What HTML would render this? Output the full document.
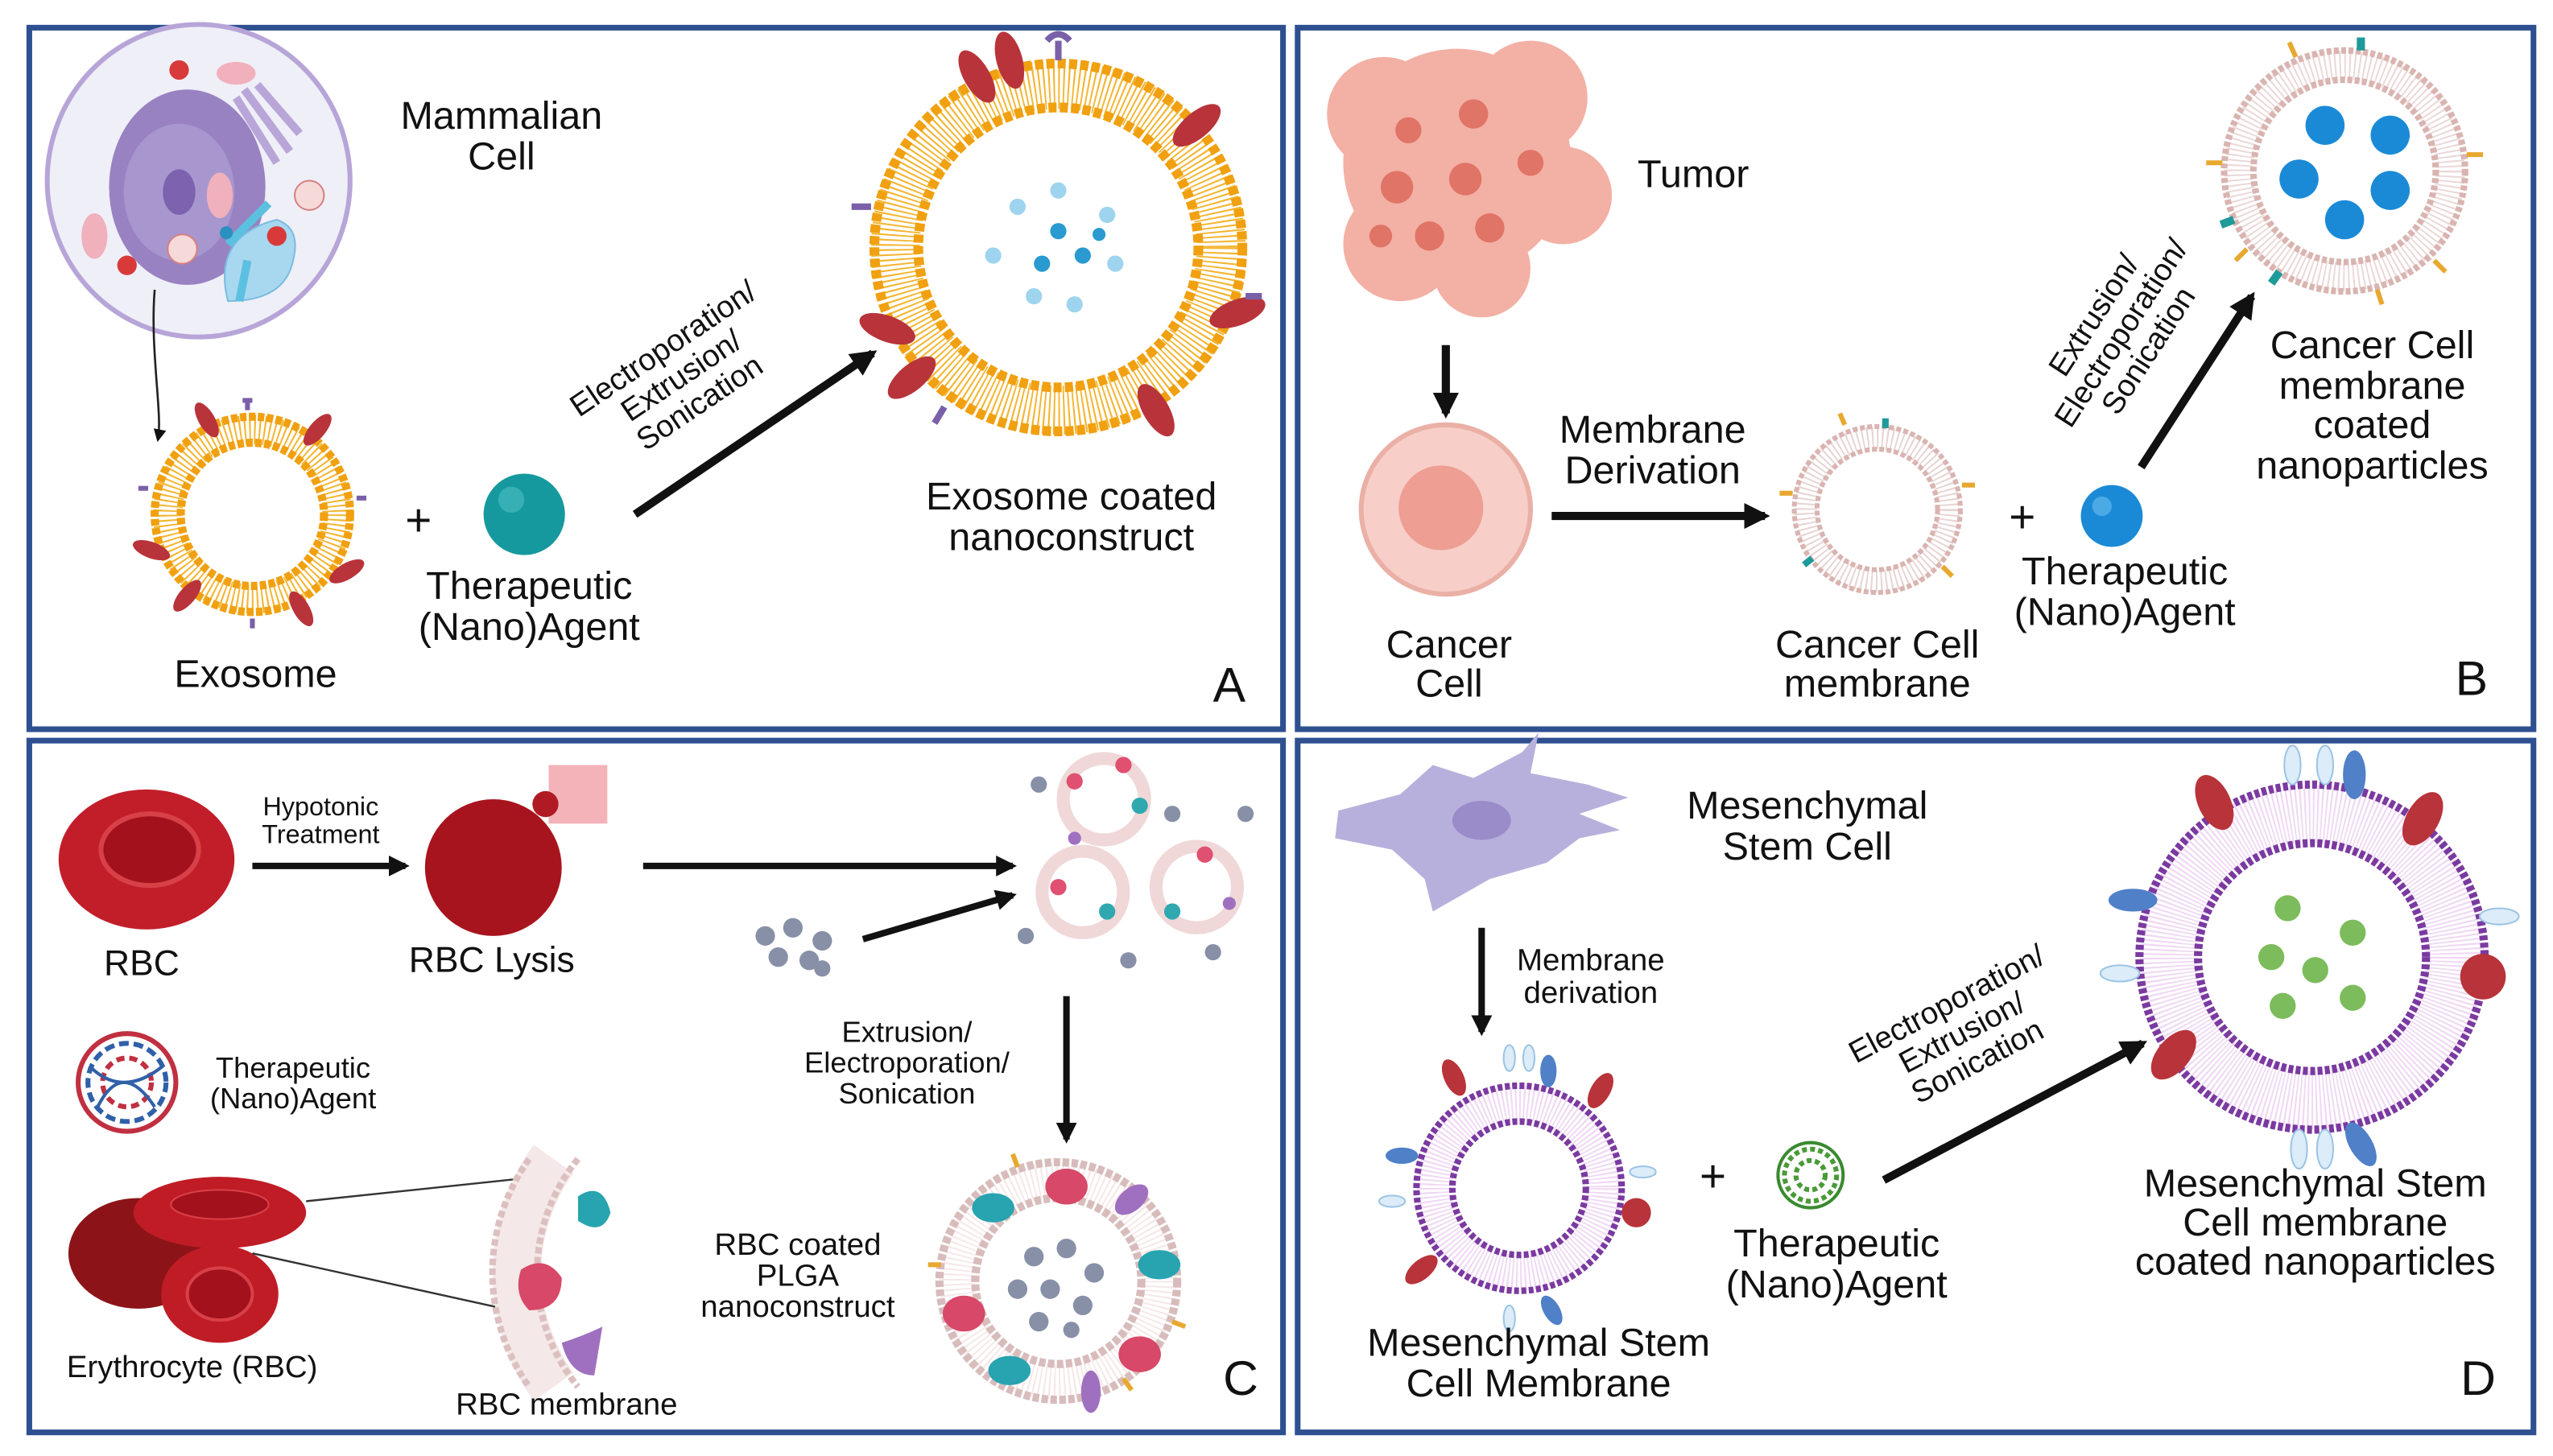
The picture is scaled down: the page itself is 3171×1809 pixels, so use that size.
<!DOCTYPE html>
<html><head><meta charset="utf-8"><style>
html,body{margin:0;padding:0;background:#fff;}
svg{display:block;}
text{font-family:"Liberation Sans Narrow","Liberation Sans",sans-serif;fill:#111;text-anchor:middle;}
</style></head><body>
<svg width="3171" height="1809" viewBox="0 0 1568 894.5" xmlns="http://www.w3.org/2000/svg">
<defs>
<marker id="ah" viewBox="0 0 10 10" refX="8" refY="5" markerWidth="3.2" markerHeight="3.2" orient="auto"><path d="M0,0 L10,5 L0,10 z" fill="#111"/></marker>
<marker id="ah2" viewBox="0 0 10 10" refX="8" refY="5" markerWidth="6" markerHeight="6" orient="auto"><path d="M0,0 L10,5 L0,10 z" fill="#111"/></marker>
</defs>
<rect width="1568" height="894.5" fill="#fff"/>
<g fill="none" stroke="#2e5090" stroke-width="3.5">
<rect x="18" y="17" width="770" height="431"/>
<rect x="797" y="17" width="759" height="431"/>
<rect x="18" y="455" width="770" height="425"/>
<rect x="797" y="455" width="759" height="425"/>
</g>

<!-- ================= PANEL A ================= -->
<ellipse cx="122" cy="111" rx="93" ry="96" fill="#efeff8" stroke="#b7a5d8" stroke-width="3"/>
<ellipse cx="115" cy="115" rx="48" ry="60" fill="#8a6fb8" opacity="0.85"/>
<ellipse cx="110" cy="118" rx="34" ry="42" fill="#a896cf"/>
<ellipse cx="110" cy="118" rx="10" ry="14" fill="#7d62b0"/>
<path d="M145,60 l25,40 M150,55 l28,38 M158,52 l26,30" stroke="#b9a6d8" stroke-width="5"/>
<path d="M140,185 q-10,-40 30,-50 q15,5 10,25 q-5,25 -40,25z" fill="#a8d8f0" stroke="#7bbbe0"/>
<ellipse cx="145" cy="45" rx="12" ry="7" fill="#f0b0bc"/>
<ellipse cx="135" cy="120" rx="8" ry="14" fill="#f0b0bc"/>
<ellipse cx="58" cy="145" rx="8" ry="14" fill="#f0b0bc"/>
<circle cx="110" cy="43" r="6" fill="#d83a3a"/><circle cx="170" cy="145" r="6" fill="#d83a3a"/><circle cx="78" cy="163" r="6" fill="#d83a3a"/>
<circle cx="190" cy="120" r="9" fill="#f6dada" stroke="#d88080"/><circle cx="112" cy="153" r="9" fill="#f6dada" stroke="#d88080"/>
<path d="M140,150 l25,-25 M152,160 l-5,25" stroke="#5cc0e0" stroke-width="5"/>
<circle cx="139" cy="143" r="4" fill="#2a90c0"/>
<path d="M95,178 C92,215 100,255 97,270" fill="none" stroke="#222" stroke-width="1.3" marker-end="url(#ah2)"/>
<text x="308" y="79" font-size="24">Mammalian</text>
<text x="308" y="104" font-size="24">Cell</text>

<g transform="translate(155,316)">
<circle r="52" fill="none" stroke="#f4b530" stroke-width="18" stroke-dasharray="1 2"/>
<circle r="60" fill="none" stroke="#f0a010" stroke-width="5" stroke-dasharray="4 1.5"/>
<circle r="44" fill="none" stroke="#f0a010" stroke-width="5" stroke-dasharray="4 1.5"/>
<g fill="#b8343a">
<ellipse cx="-28" cy="-58" rx="5" ry="12" transform="rotate(-30 -28 -58)"/><ellipse cx="40" cy="-52" rx="5" ry="12" transform="rotate(40 40 -52)"/>
<ellipse cx="-62" cy="22" rx="5" ry="12" transform="rotate(-70 -62 22)"/><ellipse cx="58" cy="35" rx="5" ry="12" transform="rotate(60 58 35)"/>
<ellipse cx="-40" cy="50" rx="5" ry="12" transform="rotate(40 -40 50)"/><ellipse cx="30" cy="58" rx="5" ry="12" transform="rotate(-30 30 58)"/>
</g>
<g stroke="#7a60a8" stroke-width="3" fill="none"><path d="M-3,-64 v-6 M-6,-70 h6"/><path d="M-64,-16 h-6"/><path d="M0,64 v6"/><path d="M64,-10 h6"/></g>
</g>
<text x="257" y="329" font-size="28" fill="#555">+</text>
<circle cx="322" cy="316" r="25" fill="#16999e"/>
<circle cx="314" cy="307" r="8" fill="#4cc0c4" opacity="0.6"/>
<text x="325" y="368" font-size="24">Therapeutic</text>
<text x="325" y="393" font-size="24">(Nano)Agent</text>
<text x="157" y="422" font-size="24">Exosome</text>
<line x1="390" y1="316" x2="536" y2="217" stroke="#111" stroke-width="5" marker-end="url(#ah)"/>
<g transform="translate(422,236) rotate(-34)" font-size="19">
<text x="0" y="-20">Electroporation/</text><text x="0" y="0">Extrusion/</text><text x="0" y="20">Sonication</text>
</g>
<g transform="translate(650,152)">
<circle r="100" fill="none" stroke="#f4b530" stroke-width="30" stroke-dasharray="1 2"/>
<circle r="113" fill="none" stroke="#f0a010" stroke-width="6" stroke-dasharray="5 2"/>
<circle r="86" fill="none" stroke="#f0a010" stroke-width="6" stroke-dasharray="5 2"/>
<g fill="#b8343a">
<ellipse cx="-50" cy="-105" rx="8" ry="18" transform="rotate(-30 -50 -105)"/><ellipse cx="85" cy="-75" rx="8" ry="18" transform="rotate(50 85 -75)"/>
<ellipse cx="-105" cy="50" rx="8" ry="18" transform="rotate(-70 -105 50)"/><ellipse cx="60" cy="100" rx="8" ry="18" transform="rotate(-30 60 100)"/>
<ellipse cx="-90" cy="80" rx="8" ry="18" transform="rotate(50 -90 80)"/><ellipse cx="110" cy="40" rx="8" ry="18" transform="rotate(70 110 40)"/>
<ellipse cx="-30" cy="-115" rx="8" ry="18" transform="rotate(-15 -30 -115)"/>
</g>
<g stroke="#7a60a8" stroke-width="4" fill="none"><path d="M0,-115 v-12 M-7,-127 q7,-8 14,0"/><path d="M-115,-25 h-12"/><path d="M115,30 h10"/><path d="M-70,98 l-6,10"/></g>
<g fill="#9fd4ee"><circle cx="-25" cy="-25" r="5"/><circle cx="0" cy="-35" r="5"/><circle cx="30" cy="-20" r="5"/><circle cx="-40" cy="5" r="5"/><circle cx="35" cy="10" r="5"/><circle cx="-15" cy="30" r="5"/><circle cx="10" cy="35" r="5"/></g>
<g fill="#2a9ad0"><circle cx="0" cy="-10" r="5"/><circle cx="-10" cy="10" r="5"/><circle cx="15" cy="5" r="5"/><circle cx="25" cy="-8" r="4"/></g>
</g>
<text x="658" y="313" font-size="24">Exosome coated</text>
<text x="658" y="338" font-size="24">nanoconstruct</text>
<text x="755" y="431" font-size="30">A</text>

<!-- ================= PANEL B ================= -->
<g fill="#f2a89c" opacity="0.9">
<circle cx="895" cy="100" r="70"/><circle cx="850" cy="70" r="35"/><circle cx="940" cy="60" r="35"/><circle cx="960" cy="120" r="30"/><circle cx="860" cy="150" r="35"/><circle cx="910" cy="165" r="30"/>
</g>
<g fill="#e07466"><circle cx="858" cy="115" r="10"/><circle cx="900" cy="110" r="10"/><circle cx="878" cy="145" r="9"/><circle cx="915" cy="140" r="9"/><circle cx="905" cy="70" r="9"/><circle cx="865" cy="80" r="8"/><circle cx="940" cy="100" r="8"/><circle cx="848" cy="145" r="7"/></g>
<text x="1040" y="115" font-size="24">Tumor</text>
<line x1="888" y1="212" x2="888" y2="254" stroke="#111" stroke-width="5" marker-end="url(#ah)"/>
<circle cx="888" cy="313" r="52" fill="#f7cfc8" stroke="#eab0a6" stroke-width="3"/>
<circle cx="885" cy="312" r="26" fill="#ee9e92"/>
<text x="890" y="404" font-size="24">Cancer</text>
<text x="890" y="428" font-size="24">Cell</text>
<text x="1015" y="272" font-size="24">Membrane</text>
<text x="1015" y="297" font-size="24">Derivation</text>
<line x1="953" y1="317" x2="1084" y2="317" stroke="#111" stroke-width="5" marker-end="url(#ah)"/>
<g transform="translate(1153,313)">
<circle r="44" fill="none" stroke="#e8d4d4" stroke-width="14" stroke-dasharray="1 2"/>
<circle r="51" fill="none" stroke="#d9b4b0" stroke-width="3" stroke-dasharray="3 1.5"/>
<circle r="37" fill="none" stroke="#d9b4b0" stroke-width="3" stroke-dasharray="3 1.5"/>
<g stroke="#e8a830" stroke-width="3"><path d="M-52,-10 h-8"/><path d="M52,-15 h8"/><path d="M40,35 l6,6"/><path d="M-20,-52 l-3,-7"/></g>
<g stroke="#1e9a9a" stroke-width="4"><path d="M5,-50 v-6"/><path d="M-40,30 l-5,4"/></g>
</g>
<text x="1153" y="404" font-size="24">Cancer Cell</text>
<text x="1153" y="428" font-size="24">membrane</text>
<text x="1242" y="327" font-size="28" fill="#555">+</text>
<circle cx="1297" cy="317" r="19" fill="#1a8ad6"/><circle cx="1291" cy="311" r="6" fill="#6cc0f0" opacity="0.6"/>
<text x="1305" y="359" font-size="24">Therapeutic</text>
<text x="1305" y="384" font-size="24">(Nano)Agent</text>
<line x1="1315" y1="287" x2="1383" y2="182" stroke="#111" stroke-width="5" marker-end="url(#ah)"/>
<g transform="translate(1308,208) rotate(-57)" font-size="19">
<text x="0" y="-20">Extrusion/</text><text x="0" y="0">Electroporation/</text><text x="0" y="20">Sonication</text>
</g>
<g transform="translate(1440,105)">
<circle r="65" fill="none" stroke="#ecd8d8" stroke-width="18" stroke-dasharray="1 2"/>
<circle r="74" fill="none" stroke="#d9b4b0" stroke-width="4" stroke-dasharray="3 1.5"/>
<circle r="56" fill="none" stroke="#d9b4b0" stroke-width="4" stroke-dasharray="3 1.5"/>
<g stroke="#e8a830" stroke-width="3"><path d="M-75,-5 h-10"/><path d="M75,-10 h10"/><path d="M55,55 l7,7"/><path d="M-30,-70 l-4,-9"/><path d="M20,73 l3,9"/><path d="M-60,48 l-7,7"/></g>
<g stroke="#1e9a9a" stroke-width="5"><path d="M10,-74 v-8"/><path d="M-68,30 l-8,3"/><path d="M-40,62 l-5,7"/></g>
<g fill="#1a8ad6"><circle cx="-12" cy="-28" r="12"/><circle cx="28" cy="-22" r="12"/><circle cx="-28" cy="5" r="12"/><circle cx="28" cy="12" r="12"/><circle cx="0" cy="30" r="12"/></g>
</g>
<text x="1457" y="220" font-size="24">Cancer Cell</text>
<text x="1457" y="245" font-size="24">membrane</text>
<text x="1457" y="269" font-size="24">coated</text>
<text x="1457" y="294" font-size="24">nanoparticles</text>
<text x="1518" y="427" font-size="30">B</text>

<!-- ================= PANEL C ================= -->
<ellipse cx="90" cy="528" rx="54" ry="43" fill="#c21e2a"/>
<ellipse cx="92" cy="522" rx="30" ry="22" fill="#a3121c" stroke="#d84048" stroke-width="3"/>
<text x="197" y="501" font-size="16">Hypotonic</text>
<text x="197" y="518" font-size="16">Treatment</text>
<line x1="155" y1="532" x2="249" y2="532" stroke="#111" stroke-width="4" marker-end="url(#ah)"/>
<circle cx="303" cy="533" r="42" fill="#a8141e"/>
<rect x="337" y="470" width="36" height="36" fill="#f0a0a8" opacity="0.8"/>
<circle cx="335" cy="494" r="8" fill="#b01a24"/>
<text x="87" y="599" font-size="22">RBC</text>
<text x="302" y="597" font-size="22">RBC Lysis</text>
<line x1="395" y1="532" x2="622" y2="532" stroke="#111" stroke-width="4" marker-end="url(#ah)"/>
<g fill="#8890a8"><circle cx="470" cy="575" r="6"/><circle cx="487" cy="570" r="6"/><circle cx="505" cy="578" r="6"/><circle cx="478" cy="588" r="6"/><circle cx="497" cy="590" r="6"/><circle cx="505" cy="595" r="5"/></g>
<line x1="530" y1="577" x2="622" y2="550" stroke="#111" stroke-width="4" marker-end="url(#ah)"/>
<g fill="none" stroke-width="8">
<circle cx="678" cy="491" r="25" stroke="#f0d8d8"/><circle cx="665" cy="548" r="25" stroke="#f0d8d8"/><circle cx="735" cy="545" r="25" stroke="#f0d8d8"/>
</g>
<g fill="#e05070"><circle cx="660" cy="480" r="5"/><circle cx="690" cy="470" r="5"/><circle cx="650" cy="545" r="5"/><circle cx="740" cy="525" r="5"/></g>
<g fill="#30a8b0"><circle cx="700" cy="495" r="5"/><circle cx="680" cy="560" r="5"/><circle cx="720" cy="560" r="5"/></g>
<g fill="#a070c0"><circle cx="660" cy="515" r="4"/><circle cx="755" cy="555" r="4"/></g>
<g fill="#8890a8"><circle cx="638" cy="482" r="5"/><circle cx="720" cy="500" r="5"/><circle cx="765" cy="500" r="5"/><circle cx="745" cy="585" r="5"/><circle cx="693" cy="590" r="5"/><circle cx="630" cy="575" r="5"/></g>
<text x="557" y="640" font-size="18">Extrusion/</text>
<text x="557" y="659" font-size="18">Electroporation/</text>
<text x="557" y="678" font-size="18">Sonication</text>
<line x1="655" y1="612" x2="655" y2="700" stroke="#111" stroke-width="4" marker-end="url(#ah)"/>
<circle cx="78" cy="665" r="30" fill="#fff" stroke="#c03040" stroke-width="3"/>
<circle cx="78" cy="665" r="24" fill="none" stroke="#3060a8" stroke-width="3" stroke-dasharray="6 3"/>
<circle cx="78" cy="665" r="15" fill="none" stroke="#c03040" stroke-width="3" stroke-dasharray="5 3"/>
<path d="M55,655 q20,20 45,0 M60,680 q15,-30 35,0" stroke="#3060a8" stroke-width="2" fill="none"/>
<text x="180" y="662" font-size="18">Therapeutic</text>
<text x="180" y="681" font-size="18">(Nano)Agent</text>
<ellipse cx="85" cy="770" rx="43" ry="34" fill="#8c1418"/>
<ellipse cx="135" cy="745" rx="53" ry="22" fill="#c01c26"/>
<ellipse cx="135" cy="740" rx="30" ry="9" fill="#a3121c" stroke="#d84048"/>
<ellipse cx="135" cy="795" rx="36" ry="30" fill="#c01c26"/>
<ellipse cx="135" cy="795" rx="20" ry="16" fill="#a3121c" stroke="#d84048" stroke-width="2"/>
<path d="M188,738 L340,722 M155,770 L305,803" stroke="#333" stroke-width="1.2"/>
<path d="M340,712 A120,120 0 0,0 340,852" fill="none" stroke="#f5e8e8" stroke-width="30"/>
<path d="M325,712 A120,120 0 0,0 325,852" fill="none" stroke="#dcc0c0" stroke-width="4" stroke-dasharray="4 2"/>
<path d="M355,712 A110,110 0 0,0 355,852" fill="none" stroke="#dcc0c0" stroke-width="4" stroke-dasharray="4 2"/>
<path d="M355,735 q15,-10 20,10 q-5,15 -20,5z" fill="#28a4b0"/>
<path d="M320,780 q15,-10 25,5 q0,20 -20,20 q-10,-10 -5,-25z" fill="#d84868"/>
<path d="M345,825 q15,-5 25,-10 l-5,30 q-15,0 -20,-20z" fill="#a070c0"/>
<text x="118" y="846" font-size="19">Erythrocyte (RBC)</text>
<text x="348" y="869" font-size="19">RBC membrane</text>
<text x="490" y="771" font-size="19">RBC coated</text>
<text x="490" y="790" font-size="19">PLGA</text>
<text x="490" y="809" font-size="19">nanoconstruct</text>
<g transform="translate(650,787)">
<circle r="62" fill="none" stroke="#f6e8e8" stroke-width="22" stroke-dasharray="1 2"/>
<circle r="73" fill="none" stroke="#d8bcbc" stroke-width="5" stroke-dasharray="4 1.5"/>
<circle r="51" fill="none" stroke="#d8bcbc" stroke-width="5" stroke-dasharray="4 1.5"/>
<g fill="#d84868"><ellipse cx="5" cy="-58" rx="13" ry="11"/><ellipse cx="-58" cy="20" rx="13" ry="11"/><ellipse cx="50" cy="45" rx="13" ry="11"/></g>
<g fill="#28a4b0"><ellipse cx="-40" cy="-45" rx="13" ry="9"/><ellipse cx="62" cy="-10" rx="13" ry="9"/><ellipse cx="-30" cy="55" rx="13" ry="9"/></g>
<g fill="#a070c0"><ellipse cx="45" cy="-50" rx="12" ry="7" transform="rotate(-40 45 -50)"/><ellipse cx="20" cy="68" rx="6" ry="13"/></g>
<g fill="#8890a8"><circle cx="-15" cy="-15" r="6"/><circle cx="5" cy="-20" r="6"/><circle cx="22" cy="-5" r="6"/><circle cx="-25" cy="5" r="6"/><circle cx="-5" cy="5" r="6"/><circle cx="15" cy="15" r="6"/><circle cx="-12" cy="25" r="6"/><circle cx="8" cy="30" r="5"/></g>
<g stroke="#e8a830" stroke-width="3"><path d="M-25,-70 l-3,-8"/><path d="M70,25 l8,3"/><path d="M-72,-10 h-8"/><path d="M40,60 l5,7"/></g>
</g>
<text x="762" y="857" font-size="30">C</text>

<!-- ================= PANEL D ================= -->
<path d="M822,498 L860,488 L880,470 L905,478 L935,462 L945,450 L940,475 L975,482 L1000,490 L970,500 L995,510 L970,515 L950,530 L915,540 L880,560 L875,540 L855,522 L820,515 Z" fill="#b8b0dc"/>
<ellipse cx="910" cy="504" rx="18" ry="12" fill="#9a8cc8"/>
<text x="1110" y="503" font-size="24">Mesenchymal</text>
<text x="1110" y="528" font-size="24">Stem Cell</text>
<line x1="910" y1="570" x2="910" y2="634" stroke="#111" stroke-width="4" marker-end="url(#ah)"/>
<text x="977" y="596" font-size="19">Membrane</text>
<text x="977" y="616" font-size="19">derivation</text>
<g transform="translate(933,730)">
<circle r="52" fill="none" stroke="#f0d8f4" stroke-width="22" stroke-dasharray="1 1.5"/>
<circle r="63" fill="none" stroke="#7a3aa0" stroke-width="4" stroke-dasharray="3 1.5"/>
<circle r="41" fill="none" stroke="#7a3aa0" stroke-width="4" stroke-dasharray="3 1.5"/>
<g fill="#b8343a"><ellipse cx="-40" cy="-68" rx="6" ry="12" transform="rotate(-25 -40 -68)"/><ellipse cx="50" cy="-60" rx="6" ry="12" transform="rotate(30 50 -60)"/><ellipse cx="-60" cy="50" rx="6" ry="12" transform="rotate(50 -60 50)"/><circle cx="72" cy="15" r="9"/></g>
<g fill="#4f80c8"><ellipse cx="18" cy="-72" rx="5" ry="10"/><ellipse cx="-72" cy="-20" rx="10" ry="5"/><ellipse cx="20" cy="75" rx="5" ry="10" transform="rotate(-30 20 75)"/></g>
<g fill="#dcecf8" stroke="#9cc4e4"><ellipse cx="-6" cy="-80" rx="3.5" ry="8"/><ellipse cx="6" cy="-80" rx="3.5" ry="8"/><ellipse cx="-78" cy="8" rx="8" ry="3.5"/><ellipse cx="76" cy="-10" rx="8" ry="3.5"/><ellipse cx="-6" cy="80" rx="3.5" ry="8"/></g>
</g>
<text x="945" y="833" font-size="24">Mesenchymal Stem</text>
<text x="945" y="858" font-size="24">Cell Membrane</text>
<text x="1052" y="732" font-size="28" fill="#555">+</text>
<circle cx="1112" cy="722" r="20" fill="#fff" stroke="#3a8a30" stroke-width="2"/>
<circle cx="1112" cy="722" r="16" fill="none" stroke="#4a9a38" stroke-width="3" stroke-dasharray="3 2"/>
<circle cx="1112" cy="722" r="9" fill="none" stroke="#4a9a38" stroke-width="3" stroke-dasharray="3 2"/>
<text x="1128" y="772" font-size="24">Therapeutic</text>
<text x="1128" y="797" font-size="24">(Nano)Agent</text>
<line x1="1157" y1="725" x2="1316" y2="641" stroke="#111" stroke-width="5" marker-end="url(#ah)"/>
<g transform="translate(1208,640) rotate(-28)" font-size="19">
<text x="0" y="-20">Electroporation/</text><text x="0" y="0">Extrusion/</text><text x="0" y="20">Sonication</text>
</g>
<g transform="translate(1420,588)">
<circle r="88" fill="none" stroke="#f0d8f4" stroke-width="36" stroke-dasharray="1 1.5"/>
<circle r="106" fill="none" stroke="#7a3aa0" stroke-width="5" stroke-dasharray="3 1.5"/>
<circle r="70" fill="none" stroke="#7a3aa0" stroke-width="5" stroke-dasharray="3 1.5"/>
<g fill="#b8343a"><ellipse cx="-60" cy="-95" rx="10" ry="18" transform="rotate(-25 -60 -95)"/><ellipse cx="68" cy="-85" rx="10" ry="18" transform="rotate(30 68 -85)"/><ellipse cx="-85" cy="60" rx="10" ry="18" transform="rotate(40 -85 60)"/><circle cx="105" cy="12" r="14"/></g>
<g fill="#4f80c8"><ellipse cx="26" cy="-112" rx="7" ry="15"/><ellipse cx="-110" cy="-35" rx="15" ry="7"/><ellipse cx="30" cy="115" rx="7" ry="15" transform="rotate(-30 30 115)"/></g>
<g fill="#dcecf8" stroke="#9cc4e4"><ellipse cx="-12" cy="-118" rx="5" ry="12"/><ellipse cx="8" cy="-118" rx="5" ry="12"/><ellipse cx="-118" cy="10" rx="12" ry="5"/><ellipse cx="115" cy="-25" rx="12" ry="5"/><ellipse cx="-8" cy="118" rx="5" ry="12"/><ellipse cx="8" cy="118" rx="5" ry="12"/></g>
<g fill="#7cbc5c"><circle cx="-15" cy="-30" r="8"/><circle cx="25" cy="-15" r="8"/><circle cx="-25" cy="0" r="8"/><circle cx="2" cy="8" r="8"/><circle cx="-18" cy="30" r="8"/><circle cx="25" cy="25" r="8"/></g>
</g>
<text x="1422" y="735" font-size="24">Mesenchymal Stem</text>
<text x="1422" y="759" font-size="24">Cell membrane</text>
<text x="1422" y="783" font-size="24">coated nanoparticles</text>
<text x="1522" y="857" font-size="30">D</text>
</svg>
</body></html>
